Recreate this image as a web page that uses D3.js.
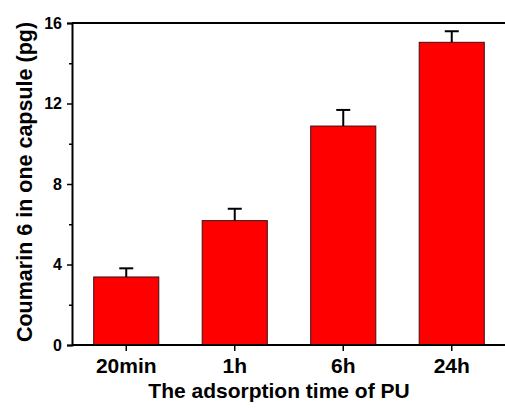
<!DOCTYPE html>
<html>
<head>
<meta charset="utf-8">
<script src="https://cdn.jsdelivr.net/npm/d3@7"></script>
<style>
  body { margin: 0; background: #fff; }
  text { font-family: Arial, "Liberation Sans", sans-serif; font-weight: bold; fill: #000; }
</style>
</head>
<body>
<div id="chart"></div>
<script>
// data
const categories = ['20min', '1h', '6h', '24h'];
const values = [3.38, 6.18, 10.88, 15.04];
const errors = [0.43, 0.59, 0.80, 0.55];
const yTicks = [0, 4, 8, 12, 16];
const yMinorTicks = [2, 6, 10, 14];

const width = 505, height = 409;
const margin = { top: 23, right: 0, bottom: 64, left: 72 };

const svg = d3.select('#chart').append('svg')
  .attr('width', width)
  .attr('height', height);

const x = d3.scaleBand()
  .domain(categories)
  .range([margin.left, width + 1])
  .paddingInner(0.4)
  .paddingOuter(0.2);

const y = d3.scaleLinear()
  .domain([0, 16])
  .range([height - margin.bottom, margin.top]);

// bars
svg.selectAll('rect.bar')
  .data(values)
  .enter().append('rect')
  .attr('class', 'bar')
  .attr('x', (d, i) => x(categories[i]))
  .attr('y', d => y(d))
  .attr('width', x.bandwidth())
  .attr('height', d => y(0) - y(d))
  .attr('fill', '#ff0000')
  .attr('stroke', '#3a1010')
  .attr('stroke-width', 1);

// error bars (upper only)
const capHalf = 7;
const err = svg.append('g').attr('stroke', '#000').attr('stroke-width', 2);
values.forEach((v, i) => {
  const cx = x(categories[i]) + x.bandwidth() / 2;
  err.append('line')
    .attr('x1', cx).attr('x2', cx)
    .attr('y1', y(v)).attr('y2', y(v + errors[i]));
  err.append('line')
    .attr('x1', cx - capHalf).attr('x2', cx + capHalf)
    .attr('y1', y(v + errors[i])).attr('y2', y(v + errors[i]));
});

// top frame line
svg.append('line')
  .attr('x1', margin.left).attr('x2', width)
  .attr('y1', y(16)).attr('y2', y(16))
  .attr('stroke', '#000').attr('stroke-width', 2);

// y axis
const yAxis = svg.append('g')
  .attr('transform', `translate(${margin.left},0)`)
  .call(d3.axisLeft(y).tickValues(yTicks).tickSize(5).tickPadding(5));
yAxis.select('.domain').attr('stroke-width', 2);
yAxis.selectAll('.tick line').attr('stroke-width', 1.5);
yAxis.selectAll('.tick text')
  .style('font-size', '16px')
  .style('font-family', 'Arial, "Liberation Sans", sans-serif')
  .style('font-weight', 'bold');

svg.append('g')
  .attr('transform', `translate(${margin.left},0)`)
  .call(d3.axisLeft(y).tickValues(yMinorTicks).tickSize(3).tickFormat(''))
  .call(g => g.select('.domain').remove())
  .selectAll('.tick line').attr('stroke-width', 1.5);

// x axis
const xAxis = svg.append('g')
  .attr('transform', `translate(0,${y(0)})`)
  .call(d3.axisBottom(x).tickSize(6).tickPadding(7));
xAxis.select('.domain')
  .attr('d', `M${margin.left},0H${width}`)
  .attr('stroke-width', 2);
xAxis.selectAll('.tick line').attr('stroke-width', 1.5);
xAxis.selectAll('.tick text')
  .style('font-size', '21px')
  .style('font-family', 'Arial, "Liberation Sans", sans-serif')
  .style('font-weight', 'bold');

// axis titles
svg.append('text')
  .attr('x', 279)
  .attr('y', 398)
  .attr('text-anchor', 'middle')
  .style('font-size', '21px')
  .text('The adsorption time of PU');

svg.append('text')
  .attr('transform', 'translate(32,182) rotate(-90)')
  .attr('text-anchor', 'middle')
  .style('font-size', '21.5px')
  .text('Coumarin 6 in one capsule (pg)');
</script>
</body>
</html>
